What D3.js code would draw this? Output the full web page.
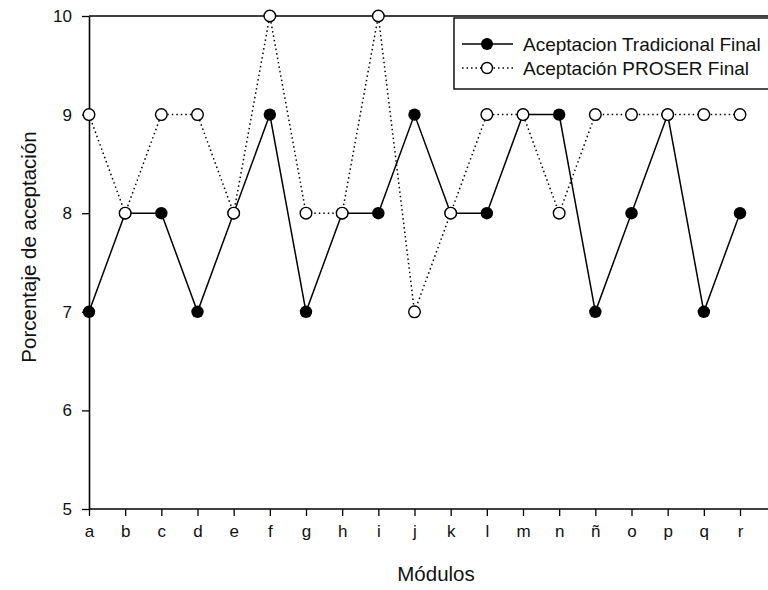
<!DOCTYPE html>
<html>
<head>
<meta charset="utf-8">
<script src="https://cdn.jsdelivr.net/npm/d3@7"></script>
<style>
body { margin: 0; background: #fff; }
text { font-family: Arial, "Liberation Sans", sans-serif; fill: #111; }
</style>
</head>
<body>
<svg id="chart" width="768" height="590"></svg>
<script>
// Data
var modulos = ["a","b","c","d","e","f","g","h","i","j","k","l","m","n","ñ","o","p","q","r"];
var tradicional = [7,8,8,7,8,9,7,8,8,9,8,8,9,9,7,8,9,7,8];
var proser = [9,8,9,9,8,10,8,8,10,7,8,9,9,8,9,9,9,9,9];
var yTicks = [5,6,7,8,9,10];
var seriesNames = ["Aceptacion Tradicional Final", "Aceptación PROSER Final"];

var svg = d3.select("#chart");

// Scales
var x = d3.scaleLinear().domain([0, 18]).range([89, 740]);
var y = d3.scaleLinear().domain([5, 10]).range([509, 16]);
var xRight = 769;

// Frame: top line and axes
svg.append("line")
    .attr("x1", x(0)).attr("x2", xRight)
    .attr("y1", y(10)).attr("y2", y(10))
    .style("stroke", "#000").style("stroke-width", 1.6);

var xAxis = d3.axisBottom(x)
    .tickValues(d3.range(modulos.length))
    .tickFormat(function(d) { return modulos[d]; })
    .tickSize(7).tickSizeOuter(0).tickPadding(9);
var gx = svg.append("g").attr("transform", "translate(0," + y(5) + ")").call(xAxis);
gx.select(".domain").remove();
gx.append("line").attr("x1", x(0)).attr("x2", xRight).attr("y1", 0).attr("y2", 0)
    .style("stroke", "#000").style("stroke-width", 1.6);
gx.selectAll(".tick line").style("stroke", "#000").style("stroke-width", 1.3);
gx.selectAll("text").style("font-size", "17px").style("font-family", "Arial, 'Liberation Sans', sans-serif").style("fill", "#111");

var yAxis = d3.axisLeft(y).tickValues(yTicks).tickFormat(d3.format("d"))
    .tickSize(7).tickSizeOuter(0).tickPadding(10);
var gy = svg.append("g").attr("transform", "translate(" + x(0) + ",0)").call(yAxis);
gy.select(".domain").style("stroke", "#000").style("stroke-width", 1.6);
gy.selectAll(".tick line").style("stroke", "#000").style("stroke-width", 1.3);
gy.selectAll("text").style("font-size", "17px").style("font-family", "Arial, 'Liberation Sans', sans-serif").style("fill", "#111");

// Axis titles
svg.append("text")
    .attr("transform", "translate(36," + 247 + ") rotate(-90)")
    .attr("text-anchor", "middle")
    .style("font-size", "20.5px")
    .text("Porcentaje de aceptación");
svg.append("text")
    .attr("x", 436).attr("y", 581)
    .attr("text-anchor", "middle")
    .style("font-size", "20.5px")
    .text("Módulos");

// Lines
var line = d3.line().x(function(d, i) { return x(i); }).y(function(d) { return y(d); });
svg.append("path").datum(tradicional).attr("d", line)
    .style("fill", "none").style("stroke", "#000").style("stroke-width", 1.5);
svg.append("path").datum(proser).attr("d", line)
    .style("fill", "none").style("stroke", "#000").style("stroke-width", 1.5)
    .style("stroke-dasharray", "1.5,3");

// Markers
svg.selectAll(".trad").data(tradicional).enter().append("circle")
    .attr("class", "trad")
    .attr("cx", function(d, i) { return x(i); })
    .attr("cy", function(d) { return y(d); })
    .attr("r", 6.2)
    .style("fill", "#000");
svg.selectAll(".pros").data(proser).enter().append("circle")
    .attr("class", "pros")
    .attr("cx", function(d, i) { return x(i); })
    .attr("cy", function(d) { return y(d); })
    .attr("r", 5.8)
    .style("fill", "#fff").style("stroke", "#000").style("stroke-width", 1.4);

// Legend
var lg = svg.append("g");
lg.append("rect").attr("x", 454).attr("y", 18).attr("width", 320).attr("height", 71)
    .style("fill", "#fff").style("stroke", "#000").style("stroke-width", 1.4);
var legY = [44, 68];
lg.append("line").attr("x1", 462).attr("x2", 513).attr("y1", legY[0]).attr("y2", legY[0])
    .style("stroke", "#000").style("stroke-width", 1.5);
lg.append("circle").attr("cx", 487).attr("cy", legY[0]).attr("r", 6).style("fill", "#000");
lg.append("line").attr("x1", 462).attr("x2", 513).attr("y1", legY[1]).attr("y2", legY[1])
    .style("stroke", "#000").style("stroke-width", 1.5).style("stroke-dasharray", "1.5,3");
lg.append("circle").attr("cx", 487).attr("cy", legY[1]).attr("r", 5.5)
    .style("fill", "#fff").style("stroke", "#000").style("stroke-width", 1.4);
lg.selectAll(".legtext").data(seriesNames).enter().append("text")
    .attr("x", 523).attr("y", function(d, i) { return legY[i]; })
    .attr("dy", "0.35em")
    .style("font-size", "19px")
    .text(function(d) { return d; });
</script>
</body>
</html>
